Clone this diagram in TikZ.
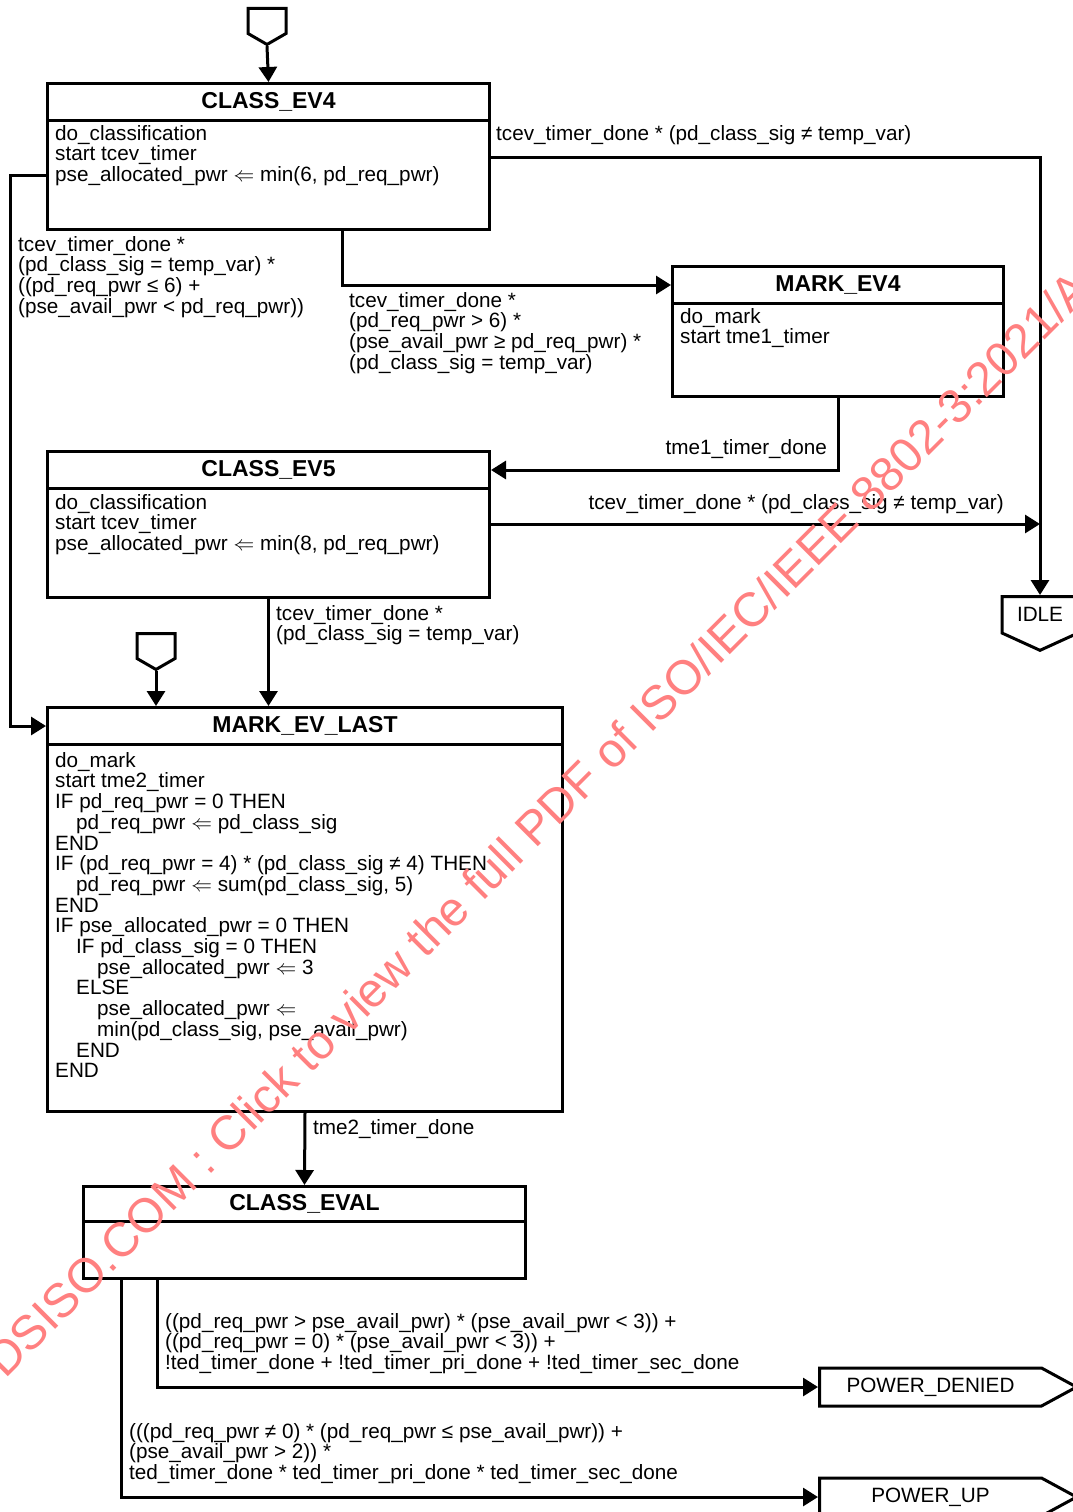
\documentclass[tikz,border=0pt]{standalone}
\usepackage{fontspec}
\setmainfont{Liberation Sans}
\usetikzlibrary{positioning,arrows.meta,shapes.symbols}
\definecolor{wmred}{RGB}{255,128,128}
\tikzset{
  titlebox/.style={draw, line width=3pt, minimum width=#1, minimum height=37pt, inner sep=0pt, anchor=north west, font=\fontsize{23}{24}\selectfont\bfseries},
  bodybox/.style={draw, line width=3pt, minimum width=#1, inner sep=0pt, anchor=north west},
  txt/.style={inner sep=0pt, align=left, font=\fontsize{20.7}{20.7}\selectfont},
  entry/.style={signal, signal to=south, draw, line width=3pt, inner sep=0pt, minimum width=38pt, minimum height=25pt, signal pointer angle=120},
  exitstate/.style={signal, signal to=east, draw, line width=3pt, inner sep=0pt, minimum width=257pt, minimum height=38pt, signal pointer angle=57, anchor=west, font=\fontsize{20.7}{20.7}\selectfont},
  arr/.style={line width=3pt, -{Triangle[length=15pt,width=18pt]}}
}
\begin{document}
\begin{tikzpicture}[x=1pt, y=-1pt]
  \useasboundingbox (0,0) rectangle (1073,1512);
  % states
  \node [titlebox=442pt] (ev4t) at (46,82) {CLASS\_EV4};
  \node [bodybox=442pt, minimum height=109pt] (ev4b) at (46,119) {};
  \node [titlebox=331pt] (mk4t) at (671,265) {MARK\_EV4};
  \node [bodybox=331pt, minimum height=93pt] (mk4b) at (671,302) {};
  \node [titlebox=442pt] (ev5t) at (46,450) {CLASS\_EV5};
  \node [bodybox=442pt, minimum height=109pt] (ev5b) at (46,487) {};
  \node [titlebox=515pt] (mkLt) at (46,706) {MARK\_EV\_LAST};
  \node [bodybox=515pt, minimum height=367pt] (mkLb) at (46,743) {};
  \node [titlebox=442pt, minimum height=35pt] (evalt) at (82,1185) {CLASS\_EVAL};
  \node [bodybox=442pt, minimum height=57pt] (evalb) at (82,1220) {};
  \node [entry, anchor=north] (entry1) at (267,7) {};
  \node [entry, anchor=north] (entry2) at (156,632) {};
  \node [signal, signal to=south, draw, line width=3pt, inner sep=0pt, minimum width=76pt, minimum height=47pt, signal pointer angle=131, anchor=north, font=\fontsize{20.7}{20.7}\selectfont] (idle) at (1040,595) {IDLE};
  \node [exitstate] (pdenied) at (818,1387) {POWER\_DENIED};
  \node [exitstate] (pup) at (818,1497) {POWER\_UP};
  % state actions
  \node [txt, below right=6pt and 9pt of ev4b.north west] (ev4txt) {do\_classification\\start tcev\_timer\\pse\_allocated\_pwr $\Leftarrow$ min(6, pd\_req\_pwr)};
  \node [txt, below right=6pt and 9pt of mk4b.north west] (mk4txt) {do\_mark\\start tme1\_timer};
  \node [txt, below right=7pt and 9pt of ev5b.north west] (ev5txt) {do\_classification\\start tcev\_timer\\pse\_allocated\_pwr $\Leftarrow$ min(8, pd\_req\_pwr)};
  \node [txt, below right=9pt and 9pt of mkLb.north west] (mkLtxt) {do\_mark\\start tme2\_timer\\IF pd\_req\_pwr = 0 THEN\\
    \hspace*{21pt}pd\_req\_pwr $\Leftarrow$ pd\_class\_sig\\END\\
    IF (pd\_req\_pwr = 4) * (pd\_class\_sig ≠ 4) THEN\\
    \hspace*{21pt}pd\_req\_pwr $\Leftarrow$ sum(pd\_class\_sig, 5)\\END\\
    IF pse\_allocated\_pwr = 0 THEN\\
    \hspace*{21pt}IF pd\_class\_sig = 0 THEN\\
    \hspace*{42pt}pse\_allocated\_pwr $\Leftarrow$ 3\\
    \hspace*{21pt}ELSE\\
    \hspace*{42pt}pse\_allocated\_pwr $\Leftarrow$\\
    \hspace*{42pt}min(pd\_class\_sig, pse\_avail\_pwr)\\
    \hspace*{21pt}END\\END};
  % transitions
  \draw [arr] (entry1.south) -- (ev4t.north);
  \draw [arr] ([yshift=18pt]ev4b.east) -| (idle.north);
  \draw [arr] ([xshift=74pt]ev4b.south) |- (mk4t.west);
  \draw [arr] (ev4b.west) -- ++(-36,0) |- (mkLt.west);
  \draw [arr] (mk4b.south) |- (ev5t.east);
  \draw [arr] ([yshift=19pt]ev5b.east) -- ([yshift=19pt]ev5b.east -| idle.north);
  \draw [arr] (ev5b.south) -- (ev5b.south |- mkLt.north);
  \draw [arr] (entry2.south) -- (entry2.south |- mkLt.north);
  \draw [arr] (mkLb.south) -- (evalt.north);
  \draw [arr] ([xshift=-147pt]evalb.south) |- (pdenied.west);
  \draw [arr] ([xshift=-183pt]evalb.south) |- (pup.west);
  % conditions
  \node [txt, anchor=north west] (condA) at (496,125) {tcev\_timer\_done * (pd\_class\_sig ≠ temp\_var)};
  \node [txt, anchor=north west] (condB) at (349,292) {tcev\_timer\_done *\\(pd\_req\_pwr > 6) *\\(pse\_avail\_pwr ≥ pd\_req\_pwr) *\\(pd\_class\_sig = temp\_var)};
  \node [txt, anchor=north west] (condC) at (18,236) {tcev\_timer\_done *\\(pd\_class\_sig = temp\_var) *\\((pd\_req\_pwr ≤ 6) +\\(pse\_avail\_pwr < pd\_req\_pwr))};
  \node [txt, anchor=north east] (condD) at (827,439) {tme1\_timer\_done};
  \node [txt, anchor=north east] (condE) at (1004,494) {tcev\_timer\_done * (pd\_class\_sig ≠ temp\_var)};
  \node [txt, anchor=north west] (condF) at (276,605) {tcev\_timer\_done *\\(pd\_class\_sig = temp\_var)};
  \node [txt, anchor=north west] (condG) at (313,1119) {tme2\_timer\_done};
  \node [txt, anchor=north west] (condH) at (165,1313) {((pd\_req\_pwr > pse\_avail\_pwr) * (pse\_avail\_pwr < 3)) +\\((pd\_req\_pwr = 0) * (pse\_avail\_pwr < 3)) +\\!ted\_timer\_done + !ted\_timer\_pri\_done + !ted\_timer\_sec\_done};
  \node [txt, anchor=north west] (condI) at (129,1423) {(((pd\_req\_pwr ≠ 0) * (pd\_req\_pwr ≤ pse\_avail\_pwr)) +\\(pse\_avail\_pwr > 2)) *\\ted\_timer\_done * ted\_timer\_pri\_done * ted\_timer\_sec\_done};
  % watermark
  \node [text=wmred, inner sep=0pt, rotate=45, anchor=base west, font=\fontsize{48}{48}\selectfont] (wm) at (5,1380) {DSISO.COM : Click to view the full PDF of ISO/IEC/IEEE 8802-3:2021/A};
\end{tikzpicture}
\end{document}
